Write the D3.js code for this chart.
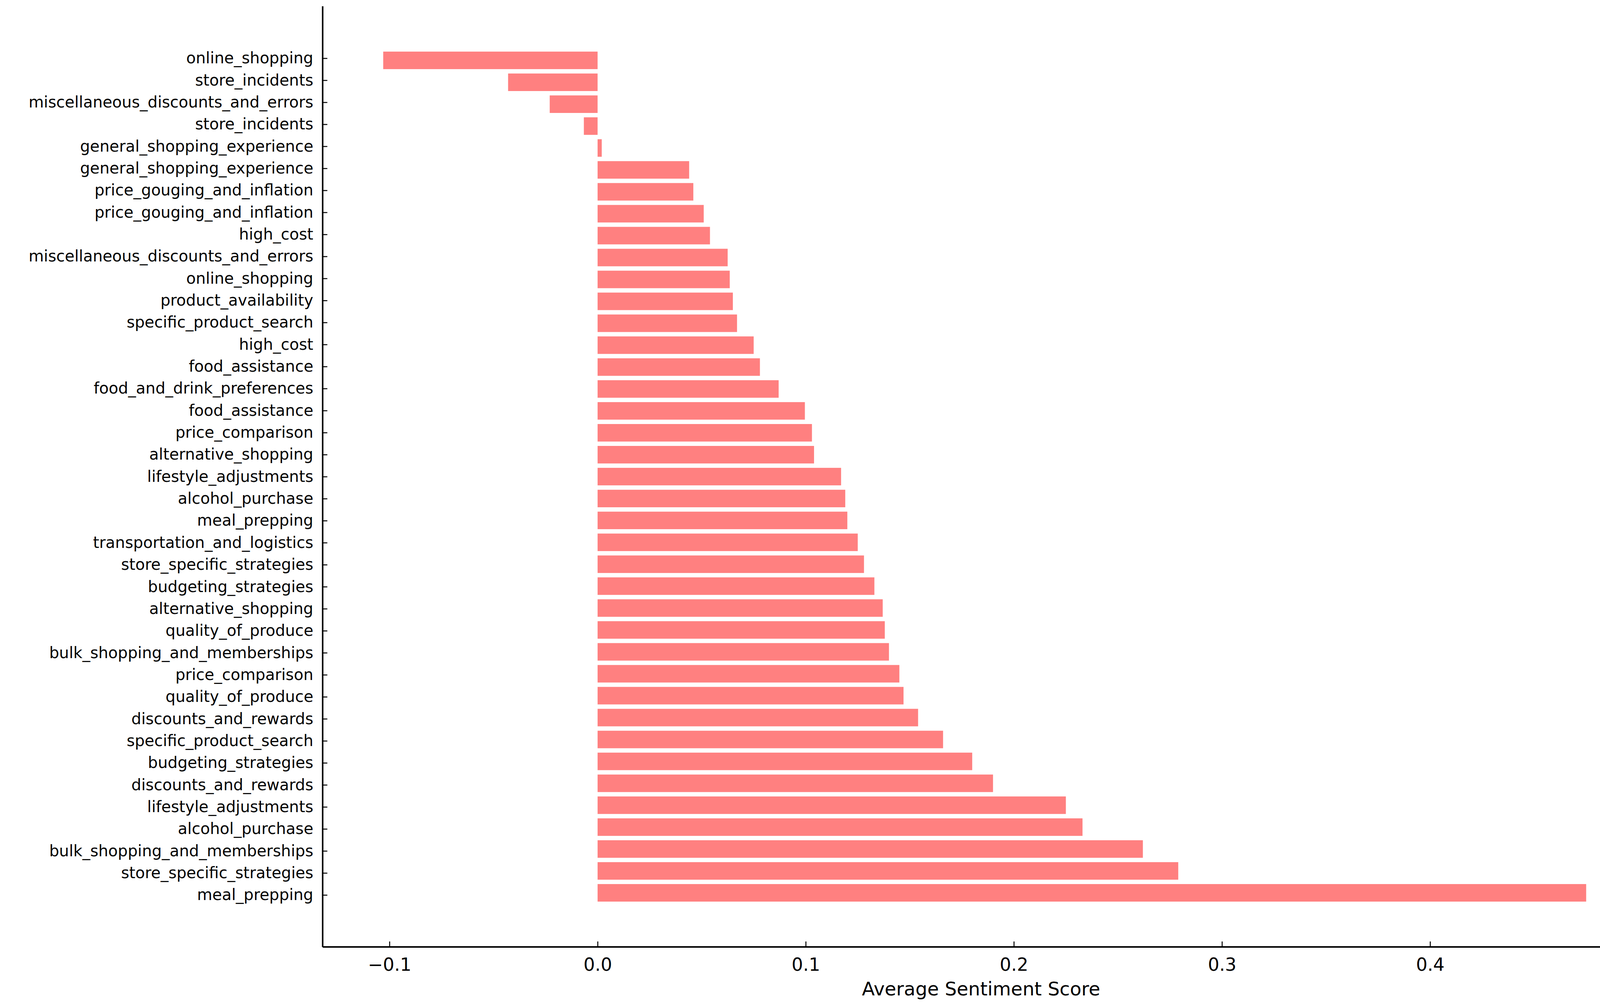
<!DOCTYPE html>
<html>
<head>
<meta charset="utf-8">
<script src="https://cdn.jsdelivr.net/npm/d3@7"></script>
<style>
  body { margin: 0; background: #fff; }
  text { font-family: "DejaVu Sans", sans-serif; fill: #000; }
</style>
</head>
<body>
<svg id="chart" width="4250" height="2569"></svg>
<script>
// Categories listed top to bottom as drawn
const categories = [
  "online_shopping", "store_incidents", "miscellaneous_discounts_and_errors", "store_incidents",
  "general_shopping_experience", "general_shopping_experience", "price_gouging_and_inflation",
  "price_gouging_and_inflation", "high_cost", "miscellaneous_discounts_and_errors", "online_shopping",
  "product_availability", "specific_product_search", "high_cost", "food_assistance",
  "food_and_drink_preferences", "food_assistance", "price_comparison", "alternative_shopping",
  "lifestyle_adjustments", "alcohol_purchase", "meal_prepping", "transportation_and_logistics",
  "store_specific_strategies", "budgeting_strategies", "alternative_shopping", "quality_of_produce",
  "bulk_shopping_and_memberships", "price_comparison", "quality_of_produce", "discounts_and_rewards",
  "specific_product_search", "budgeting_strategies", "discounts_and_rewards", "lifestyle_adjustments",
  "alcohol_purchase", "bulk_shopping_and_memberships", "store_specific_strategies", "meal_prepping"
];
const scores = [
  -0.103, -0.043, -0.023, -0.0066, 0.002, 0.044, 0.046, 0.051, 0.054, 0.0625, 0.0635,
  0.065, 0.067, 0.075, 0.078, 0.087, 0.0996, 0.103, 0.104, 0.117, 0.119, 0.120, 0.125,
  0.128, 0.133, 0.137, 0.138, 0.140, 0.145, 0.147, 0.154, 0.166, 0.180, 0.190, 0.225,
  0.233, 0.262, 0.279, 0.475
];
const xTicks = [-0.1, 0.0, 0.1, 0.2, 0.3, 0.4, 0.5];

const plot = {left: 826, right: 4197, top: 16, bottom: 2423};
const svg = d3.select('#chart');
const idx = d3.range(categories.length);

const x = d3.scaleLinear().domain([-0.1321, 0.5006]).range([plot.left, plot.right]);
// first bar centre ~149, last ~2290
const pitch = (2290 - 149) / (categories.length - 1);
const y = d3.scaleBand().domain(idx).range([149 - pitch / 2, 2290 + pitch / 2]).padding(0.2);

svg.append('g').selectAll('rect').data(idx).enter().append('rect')
  .attr('x', i => x(Math.min(0, scores[i])))
  .attr('width', i => Math.abs(x(scores[i]) - x(0)))
  .attr('y', i => y(i))
  .attr('height', y.bandwidth())
  .attr('fill', '#ff8080');

// Axes
const xAxis = svg.append('g').attr('transform', `translate(0,${plot.bottom})`)
  .call(d3.axisBottom(x).tickValues(xTicks).tickSizeInner(-14).tickSizeOuter(0).tickPadding(28));
xAxis.select('.domain').attr('stroke-width', 4).attr('d', `M${plot.left},0H${plot.right}`);
xAxis.selectAll('.tick line').attr('stroke-width', 2.5);
xAxis.selectAll('text').attr('font-size', 46).text(d => d3.format('.1f')(d).replace('-', '\u2212'));

const yAxis = svg.append('g').attr('transform', `translate(${plot.left},0)`)
  .call(d3.axisLeft(d3.scalePoint().domain(idx).range([149, 2290])).tickFormat(i => categories[i]).tickSizeInner(-12).tickSizeOuter(0).tickPadding(24));
yAxis.select('.domain').attr('stroke-width', 4).attr('d', `M0,${plot.top}V${plot.bottom}`);
yAxis.selectAll('.tick line').attr('stroke-width', 2.5);
yAxis.selectAll('text').attr('font-size', 40);

svg.append('text').attr('x', (plot.left + plot.right) / 2).attr('y', 2547)
  .attr('text-anchor', 'middle').attr('font-size', 48).text('Average Sentiment Score');
</script>
</body>
</html>
